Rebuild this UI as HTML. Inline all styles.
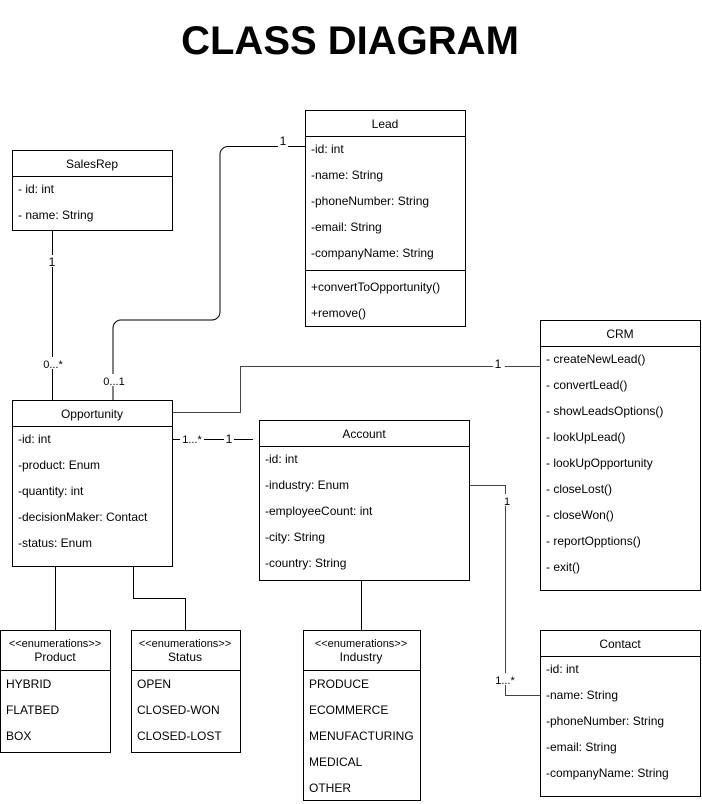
<!DOCTYPE html>
<html><head><style>body{margin:0;background:#fff}svg{display:block}text{font-family:"Liberation Sans",Arial,sans-serif;font-size:12px;fill:#000}</style></head><body>
<svg width="702" height="804" viewBox="0 0 702 804" xmlns="http://www.w3.org/2000/svg">
<text x="350" y="54" text-anchor="middle" style="font-size:40px;font-weight:bold">CLASS DIAGRAM</text>
<g fill="none" stroke="#000" stroke-width="1">
<path d="M52.5 230V400"/>
<path d="M305 146.5H228a8 8 0 0 0-8 8V312a8 8 0 0 1-8 8H121a8 8 0 0 0-8 8V400"/>
<path d="M172 412.5H240.5V366.5H540" stroke="#444"/>
<path d="M172 439.5H253"/>
<path d="M469 485.5H505.5V695.5H540" stroke="#444"/>
<path d="M361.5 580V630"/>
<path d="M55.5 566V630"/>
<path d="M133.5 566V598.5H185.5V630"/>
<rect x="305.5" y="110.5" width="160" height="216"/><path d="M305 136.5H465M305 270.5H465"/>
<rect x="12.5" y="150.5" width="160" height="80"/><path d="M12 176.5H172"/>
<rect x="12.5" y="400.5" width="160" height="166"/><path d="M12 426.5H172"/>
<rect x="259.5" y="420.5" width="210" height="160"/><path d="M259 446.5H469"/>
<rect x="540.5" y="320.5" width="160" height="270"/><path d="M540 346.5H700"/>
<rect x="540.5" y="630.5" width="160" height="166"/><path d="M540 656.5H700"/>
<rect x="0.5" y="630.5" width="110" height="122"/><path d="M0 670.5H110"/>
<rect x="131.5" y="630.5" width="109" height="122"/><path d="M131 670.5H240"/>
<rect x="303.5" y="630.5" width="117" height="170"/><path d="M303 670.5H420"/>
</g>
<g fill="#fff"><rect x="278" y="135" width="10" height="12"/><rect x="47" y="255" width="12" height="12"/><rect x="40" y="357" width="26" height="12"/><rect x="102" y="374" width="24" height="12"/><rect x="493" y="358" width="12" height="12"/><rect x="180" y="433" width="24" height="12"/><rect x="224" y="433" width="10" height="12"/><rect x="502" y="494" width="10" height="12"/><rect x="493" y="673" width="24" height="12"/></g>
<text x="283" y="145" text-anchor="middle">1</text>
<text x="52" y="266" text-anchor="middle">1</text>
<text x="53" y="368" text-anchor="middle" style="font-size:11px">0...*</text>
<text x="114" y="385" text-anchor="middle" style="font-size:11px">0...1</text>
<text x="498" y="368" text-anchor="middle">1</text>
<text x="192" y="443" text-anchor="middle" style="font-size:11px">1...*</text>
<text x="229" y="443" text-anchor="middle">1</text>
<text x="507" y="505" text-anchor="middle" style="font-size:11px">1</text>
<text x="505" y="684" text-anchor="middle" style="font-size:11px">1...*</text>
<text x="385" y="128" text-anchor="middle">Lead</text>
<text x="311" y="153">-id: int</text><text x="311" y="179">-name: String</text><text x="311" y="205">-phoneNumber: String</text><text x="311" y="231">-email: String</text><text x="311" y="257">-companyName: String</text>
<text x="311" y="291">+convertToOpportunity()</text><text x="311" y="317">+remove()</text>
<text x="92" y="168" text-anchor="middle">SalesRep</text>
<text x="18" y="193">- id: int</text><text x="18" y="219">- name: String</text>
<text x="92" y="418" text-anchor="middle">Opportunity</text>
<text x="18" y="443">-id: int</text><text x="18" y="469">-product: Enum</text><text x="18" y="495">-quantity: int</text><text x="18" y="521">-decisionMaker: Contact</text><text x="18" y="547">-status: Enum</text>
<text x="364" y="438" text-anchor="middle">Account</text>
<text x="265" y="463">-id: int</text><text x="265" y="489">-industry: Enum</text><text x="265" y="515">-employeeCount: int</text><text x="265" y="541">-city: String</text><text x="265" y="567">-country: String</text>
<text x="620" y="338" text-anchor="middle">CRM</text>
<text x="546" y="363">- createNewLead()</text><text x="546" y="389">- convertLead()</text><text x="546" y="415">- showLeadsOptions()</text><text x="546" y="441">- lookUpLead()</text><text x="546" y="467">- lookUpOpportunity</text><text x="546" y="493">- closeLost()</text><text x="546" y="519">- closeWon()</text><text x="546" y="545">- reportOpptions()</text><text x="546" y="571">- exit()</text>
<text x="620" y="648" text-anchor="middle">Contact</text>
<text x="546" y="673">-id: int</text><text x="546" y="699">-name: String</text><text x="546" y="725">-phoneNumber: String</text><text x="546" y="751">-email: String</text><text x="546" y="777">-companyName: String</text>
<text x="55" y="647" text-anchor="middle" style="font-size:11px">&lt;&lt;enumerations&gt;&gt;</text><text x="55" y="661" text-anchor="middle">Product</text>
<text x="6" y="688">HYBRID</text><text x="6" y="714">FLATBED</text><text x="6" y="740">BOX</text>
<text x="185" y="647" text-anchor="middle" style="font-size:11px">&lt;&lt;enumerations&gt;&gt;</text><text x="185" y="661" text-anchor="middle">Status</text>
<text x="137" y="688">OPEN</text><text x="137" y="714">CLOSED-WON</text><text x="137" y="740">CLOSED-LOST</text>
<text x="361" y="647" text-anchor="middle" style="font-size:11px">&lt;&lt;enumerations&gt;&gt;</text><text x="361" y="661" text-anchor="middle">Industry</text>
<text x="309" y="688">PRODUCE</text><text x="309" y="714">ECOMMERCE</text><text x="309" y="740">MENUFACTURING</text><text x="309" y="766">MEDICAL</text><text x="309" y="792">OTHER</text>
</svg>
</body></html>
